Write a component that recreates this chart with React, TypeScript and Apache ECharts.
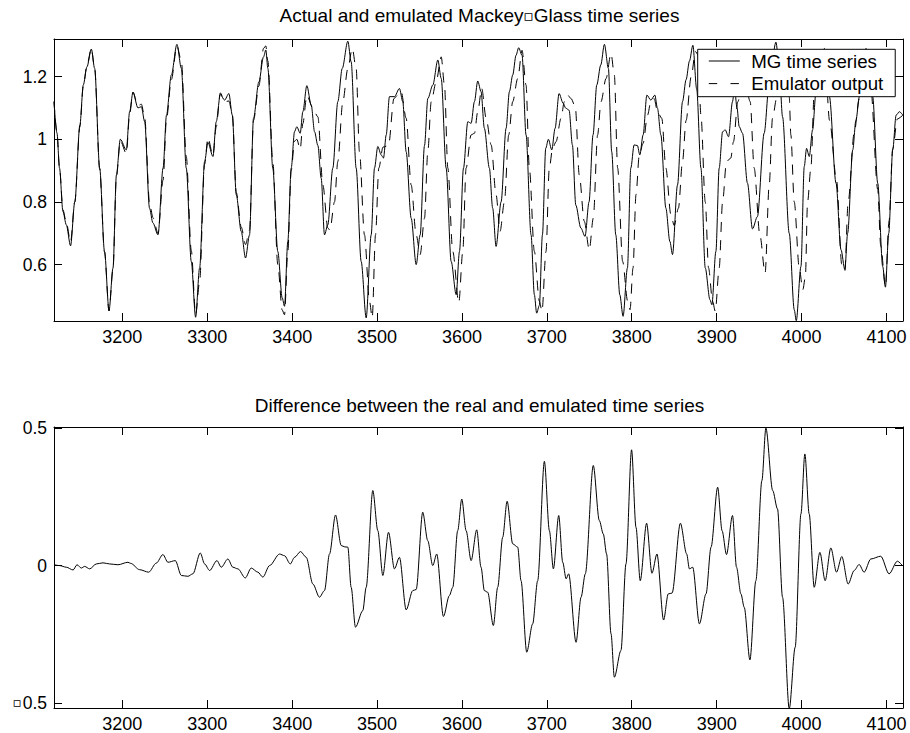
import React, { useEffect, useRef } from 'react';
import * as echarts from 'echarts';

// ---------- data ----------
const xTicks = [3200, 3300, 3400, 3500, 3600, 3700, 3800, 3900, 4000, 4100];
const topYTicks = [0.6, 0.8, 1, 1.2];
const bottomYTicks = [-0.5, 0, 0.5];
const bottomYTickLabels = ['{box|\u25AB}0.5', '0', '0.5'];

const topTitle = 'Actual and emulated Mackey{box|\u25AB}Glass time series';
const bottomTitle = 'Difference between the real and emulated time series';
const mgName = 'MG time series';
const emuName = 'Emulator output';

// Mackey-Glass time series [time, value]
const mgSeries: [number, number][] = [
  [3119.5, 1.12], [3123, 1.02], [3126, 0.908], [3130, 0.77], [3134, 0.727], [3139, 0.66], [3144, 0.8],
  [3150, 1.046], [3154, 1.173], [3158.3, 1.231], [3163.5, 1.288], [3167.4, 1.226], [3173.3, 0.908],
  [3179, 0.642], [3184.3, 0.453], [3189, 0.589], [3193, 0.886], [3197.6, 1.0], [3204.7, 0.966],
  [3208.6, 1.088], [3212.5, 1.15], [3218.4, 1.1], [3222.4, 1.104], [3226.3, 1.056], [3232, 0.78],
  [3236, 0.733], [3242, 0.695], [3248, 0.909], [3252, 1.077], [3257.7, 1.205], [3264.3, 1.303],
  [3269.5, 1.226], [3275.3, 0.908], [3281.2, 0.61], [3286.3, 0.432], [3291, 0.589], [3296.9, 0.929],
  [3300.8, 0.99], [3306.7, 0.945], [3310.6, 1.056], [3315.4, 1.143], [3320.4, 1.125], [3325.5, 1.146],
  [3329.5, 1.077], [3334.2, 0.823], [3340, 0.706], [3345.1, 0.621], [3349.8, 0.695], [3354.5, 1.067],
  [3360.8, 1.183], [3366.3, 1.263], [3369, 1.285], [3371.4, 1.226], [3377.2, 0.908], [3383.1, 0.642],
  [3388.3, 0.494], [3391, 0.467], [3394.9, 0.674], [3398.9, 0.908], [3402.8, 1.024], [3405.5, 1.04],
  [3409.5, 1.019], [3412.6, 1.088], [3417.3, 1.171], [3422.5, 1.109], [3426.4, 1.024], [3430.3, 0.98],
  [3434.2, 0.876], [3438.1, 0.695], [3442, 0.727], [3447.9, 0.908], [3453.8, 1.12], [3459, 1.226],
  [3465.6, 1.313], [3469.5, 1.247], [3475.4, 0.908], [3481.3, 0.61], [3487.2, 0.43], [3493.1, 0.695],
  [3497, 0.908], [3500.9, 0.977], [3504.9, 0.95], [3507.6, 0.94], [3510.8, 1.014], [3514.6, 1.136],
  [3520.5, 1.136], [3526.4, 1.162], [3530.3, 1.12], [3534.3, 0.96], [3540.2, 0.748], [3546.1, 0.6],
  [3550.8, 0.695], [3555.9, 0.98], [3559.8, 1.13], [3565.7, 1.173], [3571.6, 1.253], [3575.6, 1.194],
  [3581.4, 0.908], [3587.3, 0.61], [3593.2, 0.504], [3597.1, 0.642], [3601.8, 0.908], [3606.9, 1.056],
  [3610.8, 1.051], [3614.7, 1.12], [3618.6, 1.186], [3622.5, 1.152], [3626.4, 1.035], [3632.3, 0.908],
  [3636.2, 0.78], [3640.2, 0.658], [3646.1, 0.8], [3652, 1.035], [3655.9, 1.152], [3659.8, 1.205],
  [3663.7, 1.268], [3666.8, 1.292], [3670.8, 1.268], [3675.5, 1.014], [3681.4, 0.695], [3685.3, 0.504],
  [3688, 0.445], [3691.2, 0.47], [3694.8, 0.695], [3698.7, 0.971], [3701.8, 1.0], [3705.8, 0.966],
  [3709.7, 1.035], [3714.4, 1.146], [3719.2, 1.115], [3722.3, 1.099], [3726.2, 1.093], [3730.1, 0.982],
  [3734.1, 0.79], [3740, 0.717], [3745, 0.69], [3749.7, 0.8], [3754.4, 1.014], [3758.8, 1.173],
  [3763.5, 1.237], [3767.8, 1.303], [3772.5, 1.226], [3776.4, 0.96], [3781.2, 0.695], [3785.9, 0.504],
  [3789.8, 0.435], [3794.9, 0.589], [3798.9, 0.908], [3802.8, 0.982], [3806.7, 0.98], [3809.5, 0.95],
  [3813.4, 1.014], [3817.8, 1.141], [3822.5, 1.125], [3827.2, 1.141], [3830.3, 1.099], [3834.3, 1.014],
  [3840.2, 0.78], [3844.9, 0.674], [3848, 0.632], [3853.9, 0.854], [3859.8, 1.12], [3864, 1.19],
  [3868, 1.25], [3872, 1.3], [3876.5, 1.16], [3881.5, 0.908], [3886.6, 0.589], [3892.1, 0.488],
  [3894.4, 0.472], [3899.1, 0.642], [3903, 0.908], [3907, 1.024], [3910.1, 1.03], [3914, 1.008],
  [3918.7, 1.12], [3921, 1.165], [3924, 1.1], [3926.6, 1.04], [3930.5, 1.019], [3936.3, 0.86],
  [3942.2, 0.714], [3948, 0.753], [3956, 1.02], [3961.9, 1.178], [3965.5, 1.26], [3969.8, 1.31],
  [3973.5, 1.24], [3977.6, 1.072], [3985.5, 0.7], [3991.4, 0.456], [3993.8, 0.421], [3999.3, 0.594],
  [4003.2, 0.913], [4005.9, 0.971], [4009.1, 0.945], [4013, 1.03], [4017, 1.15], [4021, 1.24],
  [4025, 1.28], [4029, 1.22], [4032.8, 1.136], [4040.6, 0.86], [4046.5, 0.647], [4051, 0.584],
  [4054.3, 0.7], [4060.3, 0.966], [4064, 1.06], [4068.2, 1.136], [4072, 1.22], [4076, 1.28],
  [4080, 1.22], [4083.8, 1.136], [4089.7, 0.86], [4095.6, 0.594], [4098.8, 0.528], [4102.7, 0.7],
  [4107.4, 0.966], [4111.4, 1.077], [4115.3, 1.088], [4119.3, 1.077],
];

// Emulator output [time, value]
const emulatorSeries: [number, number][] = [
  [3119.5, 1.12], [3123, 1.02], [3126, 0.91], [3130, 0.775], [3134, 0.735], [3139, 0.672], [3144, 0.8],
  [3150, 1.04], [3154, 1.17], [3158.3, 1.236], [3163.5, 1.29], [3167.4, 1.225], [3173.3, 0.905],
  [3179, 0.64], [3184.3, 0.452], [3189, 0.585], [3193, 0.88], [3197.6, 0.995], [3204.7, 0.955],
  [3208.6, 1.08], [3212.5, 1.15], [3218.4, 1.107], [3222.4, 1.112], [3226.3, 1.07], [3232, 0.8],
  [3236, 0.75], [3242, 0.7], [3248, 0.87], [3252, 1.065], [3257.7, 1.19], [3264.3, 1.298],
  [3269.5, 1.25], [3275.3, 0.945], [3281.2, 0.645], [3286.3, 0.44], [3291, 0.545], [3296.9, 0.92],
  [3300.8, 1.005], [3306.7, 0.948], [3310.6, 1.04], [3315.4, 1.148], [3320.4, 1.12], [3325.5, 1.122],
  [3329.5, 1.08], [3334.2, 0.83], [3340, 0.72], [3345.1, 0.664], [3349.8, 0.71], [3354.5, 1.06],
  [3360.8, 1.17], [3366.3, 1.29], [3369, 1.298], [3371.4, 1.25], [3377.2, 0.93], [3383.1, 0.6],
  [3388.3, 0.455], [3391, 0.44], [3394.9, 0.64], [3398.9, 0.9], [3402.8, 0.994], [3405.5, 1.0],
  [3409.5, 0.968], [3412.6, 1.05], [3417.3, 1.14], [3424.4, 1.099], [3430.3, 1.072], [3436.2, 0.854],
  [3442, 0.717], [3444.5, 0.71], [3449.9, 0.8], [3453.8, 0.929], [3459.7, 1.12], [3465.6, 1.226],
  [3470.8, 1.29], [3475.4, 1.226], [3479.3, 0.96], [3485.2, 0.695], [3491.1, 0.483], [3494.3, 0.43],
  [3498.2, 0.695], [3502.1, 0.908], [3507, 0.975], [3513.5, 0.98], [3519.9, 1.13], [3524, 1.14],
  [3528.4, 1.152], [3534.3, 1.067], [3540.2, 0.854], [3546.1, 0.695], [3550.8, 0.632], [3555.9, 0.748],
  [3559.8, 0.96], [3563.8, 1.12], [3569.6, 1.183], [3575.6, 1.263], [3579.4, 1.173], [3583.4, 0.908],
  [3589.2, 0.642], [3596.3, 0.478], [3601, 0.642], [3604.9, 0.908], [3610.8, 1.014], [3614.7, 1.019],
  [3618.6, 1.088], [3623.3, 1.162], [3628.5, 1.067], [3634.4, 0.982], [3640.2, 0.823], [3644.9, 0.706],
  [3650, 0.8], [3655.1, 1.014], [3659.8, 1.12], [3665.7, 1.194], [3670.8, 1.284], [3675.5, 1.173],
  [3679.4, 0.908], [3685.3, 0.642], [3691.2, 0.483], [3694.3, 0.451], [3699, 0.642], [3702.9, 0.908],
  [3706.8, 0.971], [3710.8, 0.992], [3716.7, 1.067], [3720.6, 1.12], [3724.5, 1.141], [3728.5, 1.13],
  [3733.5, 1.104], [3738.2, 0.886], [3744.1, 0.738], [3750, 0.647], [3754.7, 0.748], [3759.8, 1.014],
  [3763.8, 1.12], [3769.7, 1.194], [3775.6, 1.274], [3779.5, 1.205], [3783.4, 0.908], [3789.3, 0.61],
  [3795.2, 0.483], [3798, 0.456], [3801.5, 0.589], [3805, 0.823], [3808.9, 0.95], [3813.4, 0.987],
  [3818.6, 1.077], [3822.5, 1.12], [3826.4, 1.13], [3830.3, 1.088], [3835.4, 1.067], [3840.2, 0.908],
  [3846.1, 0.759], [3850, 0.725], [3855, 0.78], [3859.8, 0.929], [3864, 1.06], [3870, 1.2],
  [3875, 1.28], [3878, 1.27], [3881.5, 1.077], [3886.6, 0.8], [3890.5, 0.589], [3895.2, 0.483],
  [3898.4, 0.451], [3903, 0.589], [3907, 0.8], [3911.6, 0.929], [3916.7, 0.94], [3919.8, 0.992],
  [3925, 1.12], [3930, 1.17], [3935, 1.16], [3939.5, 1.12], [3944.2, 0.908], [3950.9, 0.695],
  [3957.1, 0.573], [3961.9, 0.854], [3965.8, 1.067], [3970.6, 1.13], [3975, 1.22], [3980, 1.23],
  [3985.5, 1.136], [3987.4, 1.014], [3991.4, 0.8], [3997.3, 0.589], [4001.5, 0.52], [4004.5, 0.56],
  [4007.1, 0.8], [4011, 0.908], [4015, 1.15], [4021, 1.2], [4027, 1.29], [4033, 1.06],
  [4041.2, 0.87], [4047.4, 0.6], [4051, 0.58], [4054.9, 0.8], [4062, 1.02], [4068, 1.13],
  [4073.7, 1.27], [4076, 1.29], [4081.6, 1.16], [4089.7, 0.84], [4093.3, 0.66], [4098.8, 0.53],
  [4103.1, 0.74], [4107.4, 0.97], [4112.9, 1.065], [4119.3, 1.077],
];

// Difference between real and emulated series [time, value]
const differenceSeries: [number, number][] = [
  [3119.5, 0.003], [3126, 0.0], [3134, -0.006], [3142, -0.016], [3146.6, 0.003], [3151.7, -0.009],
  [3155.6, -0.003], [3161.5, -0.012], [3169.4, 0.006], [3177.2, 0.01], [3185, 0.006], [3194.8, 0.003],
  [3206.6, 0.012], [3209.8, 0.008], [3220.4, -0.015], [3231, -0.024], [3240, 0.009], [3247.8, 0.04],
  [3253.7, 0.012], [3262.4, 0.018], [3269.5, -0.036], [3277.2, -0.039], [3283.1, -0.03],
  [3291.8, 0.046], [3296.9, 0.006], [3302.8, -0.018], [3311.4, 0.018], [3316.5, -0.006],
  [3324.3, 0.024], [3330.2, -0.006], [3336.1, -0.012], [3344.8, -0.045], [3351.8, -0.009],
  [3359.6, -0.024], [3365.5, -0.042], [3373.4, 0.0], [3385.2, 0.042], [3391, 0.036], [3397.8, 0.006],
  [3402.8, 0.03], [3409.9, 0.051], [3416.6, 0.03], [3424.4, -0.067], [3432.2, -0.115],
  [3438.1, -0.091], [3444, 0.042], [3451.1, 0.184], [3457.8, 0.073], [3462, 0.068], [3465.6, 0.067],
  [3469.5, -0.079], [3474.6, -0.224], [3483.2, -0.164], [3487.2, -0.079], [3495, 0.273],
  [3500.9, 0.127], [3506.8, -0.036], [3513.5, 0.121], [3520.5, -0.012], [3526.4, 0.03],
  [3534.3, -0.161], [3542.1, -0.091], [3546.1, -0.087], [3553.8, 0.194], [3559.7, 0.091],
  [3565.6, 0.0], [3570.3, 0.042], [3578.2, -0.185], [3585.2, -0.109], [3589.2, -0.079],
  [3595, 0.127], [3599.8, 0.242], [3604.9, 0.127], [3610.8, 0.018], [3617.4, 0.13], [3622.5, -0.006],
  [3626.4, -0.091], [3630.3, -0.097], [3637, -0.218], [3642.1, -0.079], [3648, 0.103], [3653.2, 0.234],
  [3659.8, 0.079], [3665.7, 0.067], [3669.6, -0.055], [3676.3, -0.315], [3683.3, -0.212],
  [3689.2, -0.055], [3697.1, 0.379], [3703, 0.127], [3707.7, -0.012], [3714, 0.182], [3718.7, 0.012],
  [3722.7, -0.048], [3725.7, -0.03], [3734.4, -0.279], [3740.3, -0.115], [3745.3, -0.03],
  [3754.7, 0.364], [3761.8, 0.164], [3766.5, 0.115], [3770.4, 0.042], [3775.6, -0.248],
  [3779.5, -0.406], [3787.3, -0.309], [3793.2, 0.006], [3799.8, 0.421], [3805, 0.139], [3810, -0.055],
  [3817.5, 0.154], [3823.8, -0.028], [3829.7, 0.042], [3837.5, -0.198], [3843, -0.103],
  [3847.5, -0.1], [3857.3, 0.154], [3864.7, 0.042], [3867.9, -0.012], [3871.8, -0.006],
  [3879.7, -0.212], [3887.5, -0.103], [3893.4, 0.067], [3901.2, 0.285], [3906.4, 0.127],
  [3911.6, 0.04], [3918.7, 0.182], [3923.4, -0.006], [3928.6, -0.103], [3932.5, -0.152],
  [3939.2, -0.343], [3946.2, -0.055], [3953.3, 0.309], [3958, 0.5], [3966, 0.273], [3971.7, 0.206],
  [3977.6, -0.115], [3985.5, -0.521], [3992.5, -0.297], [3999.3, 0.188], [4003.9, 0.406],
  [4009, 0.188], [4014.9, -0.079], [4021.6, 0.048], [4027.8, -0.055], [4034.5, 0.064],
  [4041.2, -0.024], [4047.4, 0.033], [4054.9, -0.067], [4062, -0.018], [4067.8, 0.004],
  [4073.7, -0.024], [4081.6, 0.024], [4093.3, 0.034], [4103.1, -0.03], [4112.9, 0.016], [4118.8, 0.0],
];

// ---------- chart ----------
const X_MIN = 3119.5;
const X_MAX = 4119.5;
const FONT = '"Liberation Sans", Arial, Helvetica, sans-serif';
const BOX_STYLE = { fontFamily: '"DejaVu Sans", sans-serif', fontWeight: 'bold', color: '#000' };

function xAxesFor(gridIndex: number) {
  const common = {
    type: 'value',
    gridIndex,
    min: X_MIN,
    max: X_MAX,
    splitLine: { show: false },
    axisLine: { show: true, onZero: false, lineStyle: { color: '#000', width: 1 } },
    axisTick: { show: true, inside: true, length: 8, customValues: xTicks, lineStyle: { color: '#000', width: 1 } },
  };
  return [
    {
      ...common,
      position: 'bottom',
      axisLabel: {
        show: true,
        customValues: xTicks,
        formatter: (v: number) => String(v),
        color: '#000',
        fontSize: 18,
        fontFamily: FONT,
        margin: 7,
      },
    },
    { ...common, position: 'top', axisLabel: { show: false } },
  ];
}

function yAxesFor(gridIndex: number, min: number, max: number, ticks: number[], fmt: (v: number) => string) {
  const common = {
    type: 'value',
    gridIndex,
    min,
    max,
    splitLine: { show: false },
    axisLine: { show: true, onZero: false, lineStyle: { color: '#000', width: 1 } },
    axisTick: { show: true, inside: true, length: 8, customValues: ticks, lineStyle: { color: '#000', width: 1 } },
  };
  return [
    {
      ...common,
      position: 'left',
      axisLabel: {
        show: true,
        customValues: ticks,
        formatter: fmt,
        color: '#000',
        fontSize: 17.5,
        fontFamily: FONT,
        margin: 7,
        rich: { box: { ...BOX_STYLE, fontSize: 13.5, verticalAlign: 'bottom', lineHeight: 16, padding: [0, 1, 3, 0] } },
      },
    },
    { ...common, position: 'right', axisLabel: { show: false } },
  ];
}

function bottomLabel(v: number): string {
  let best = 0;
  for (let i = 1; i < bottomYTicks.length; i++) {
    if (Math.abs(bottomYTicks[i] - v) < Math.abs(bottomYTicks[best] - v)) best = i;
  }
  return bottomYTickLabels[best];
}

const option: any = {
  animation: false,
  backgroundColor: '#fff',
  color: ['#000', '#000', '#000'],
  title: [
    {
      text: topTitle,
      left: 479.5,
      textAlign: 'center',
      top: 6,
      padding: 0,
      textStyle: {
        fontSize: 19,
        fontWeight: 'normal',
        color: '#000',
        fontFamily: FONT,
        rich: { box: { ...BOX_STYLE, fontSize: 15, verticalAlign: 'bottom', lineHeight: 17, padding: [0, 0, 1.5, 0] } },
      },
    },
    {
      text: bottomTitle,
      left: 479.5,
      textAlign: 'center',
      top: 395.5,
      padding: 0,
      textStyle: { fontSize: 19, fontWeight: 'normal', color: '#000', fontFamily: FONT },
    },
  ],
  legend: {
    orient: 'vertical',
    left: 697.7,
    top: 49.3,
    padding: [2.2, 12, 3.6, 10.6],
    itemWidth: 31,
    itemHeight: 14,
    itemGap: 3.6,
    backgroundColor: '#fff',
    borderColor: '#000',
    borderWidth: 1,
    borderRadius: 0,
    selectedMode: false,
    itemStyle: { opacity: 0 },
    textStyle: { fontSize: 18.7, color: '#000', fontFamily: FONT, padding: [0, 0, 0, 6.5] },
    data: [
      { name: mgName, lineStyle: { color: '#000', width: 1, type: 'solid', opacity: 1 } },
      { name: emuName, lineStyle: { color: '#000', width: 1, type: [8.4, 13.3], opacity: 1 } },
    ],
  },
  grid: [
    { left: 54, top: 39, width: 849, height: 282, containLabel: false },
    { left: 54, top: 427, width: 849, height: 281, containLabel: false },
  ],
  xAxis: [...xAxesFor(0), ...xAxesFor(1)],
  yAxis: [
    ...yAxesFor(0, 0.42, 1.32, topYTicks, (v: number) => String(v)),
    ...yAxesFor(1, -0.518, 0.504, bottomYTicks, bottomLabel),
  ],
  series: [
    {
      name: emuName,
      type: 'line',
      xAxisIndex: 0,
      yAxisIndex: 0,
      data: emulatorSeries,
      showSymbol: false,
      symbol: 'none',
      smooth: 0.3,
      smoothMonotone: 'x',
      clip: false,
      itemStyle: { color: '#000' },
      lineStyle: { color: '#000', width: 1, type: [10, 8] },
      z: 2,
    },
    {
      name: mgName,
      type: 'line',
      xAxisIndex: 0,
      yAxisIndex: 0,
      data: mgSeries,
      showSymbol: false,
      symbol: 'none',
      smooth: 0.3,
      smoothMonotone: 'x',
      clip: false,
      itemStyle: { color: '#000' },
      lineStyle: { color: '#000', width: 1, type: 'solid' },
      z: 3,
    },
    {
      name: 'Difference',
      type: 'line',
      xAxisIndex: 2,
      yAxisIndex: 2,
      data: differenceSeries,
      showSymbol: false,
      symbol: 'none',
      smooth: 0.3,
      smoothMonotone: 'x',
      clip: false,
      itemStyle: { color: '#000' },
      lineStyle: { color: '#000', width: 1 },
      z: 3,
    },
  ],
};

export default function App() {
  const ref = useRef<HTMLDivElement>(null);
  useEffect(() => {
    document.body.style.margin = '0';
    if (!ref.current) return;
    const chart = echarts.init(ref.current, null, { renderer: 'svg', width: 910, height: 733 });
    chart.setOption(option);
    return () => {
      chart.dispose();
    };
  }, []);
  return <div ref={ref} style={{ width: 910, height: 733 }} />;
}
